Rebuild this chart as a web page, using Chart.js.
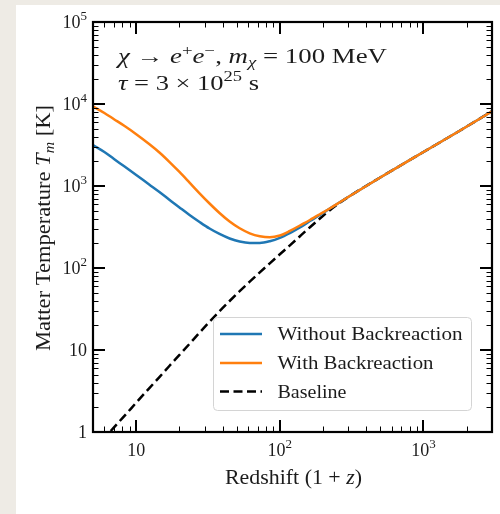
<!DOCTYPE html>
<html><head><meta charset="utf-8">
<script src="https://cdn.jsdelivr.net/npm/chart.js@4.4.1/dist/chart.umd.min.js"></script>
<style>html,body{margin:0;padding:0;background:#eeebe5;overflow:hidden}canvas{display:block}</style>
</head><body>
<canvas id="c" width="500" height="514"></canvas>
<script>
// ---- data ----
const redshift      = [5, 6, 7, 8.25, 10, 12.3, 14.5, 17, 20, 23.5, 27.6, 32.4, 38, 44.7, 52.5, 61.7, 72.5, 85.1, 100, 117.5, 138, 162, 190, 224, 263, 309, 500, 1000, 1800, 3000];
const tempWithout   = [3150, 2598, 2134, 1738, 1362, 1043, 845, 679, 547, 443, 364, 303, 260, 229, 210, 202, 202, 212, 233, 267, 312, 374, 443, 535, 638, 760, 1270, 2598, 4752, 8150];
const tempWith      = [9350, 7768, 6525, 5420, 4282, 3251, 2563, 1973, 1482, 1100, 815, 612, 469, 369, 305, 265, 244, 237, 249, 283, 330, 385, 452, 535, 638, 760, 1270, 2598, 4752, 8150];
const tempBaseline  = [0.58, 0.84, 1.14, 1.56, 2.28, 3.41, 4.67, 6.38, 8.71, 11.9, 16.3, 22.1, 29.7, 39.6, 52.1, 68.1, 88.4, 114, 147, 189, 244, 314, 401, 510, 629, 760, 1270, 2598, 4752, 8150];
const seriesNames   = ['Without Backreaction', 'With Backreaction', 'Baseline'];
const xMajorTicks   = [10, 100, 1000];
const xTickLabels   = [['10', ''], ['10', '2'], ['10', '3']];
const yMajorTicks   = [1, 10, 100, 1000, 10000, 100000];
const yTickLabels   = [['1', ''], ['10', ''], ['10', '2'], ['10', '3'], ['10', '4'], ['10', '5']];
const xRange = [5, 3000];
const yRange = [1, 100000];

const SERIF = '"Liberation Serif", "DejaVu Serif", serif';
const TXT = '#1c1c1c';
const BLUE = '#1f77b4', ORANGE = '#ff7f0e';

function pts(ys) { return redshift.map((x, i) => ({x, y: ys[i]})); }

// rich text: segs = [{t, it, sc, dy}]
function richWidth(ctx, segs, size) {
  let w = 0;
  for (const s of segs) {
    ctx.font = (s.it ? 'italic ' : '') + Math.round(size * (s.sc || 1)) + 'px ' + SERIF;
    w += ctx.measureText(s.t).width;
  }
  return w;
}
function drawRich(ctx, segs, x, y, size, targetW, align) {
  const w = richWidth(ctx, segs, size);
  const sx = targetW ? targetW / w : 1;
  const tw = w * sx;
  let x0 = align === 'center' ? x - tw / 2 : align === 'right' ? x - tw : x;
  ctx.save();
  ctx.translate(x0, y);
  ctx.scale(sx, 1);
  ctx.fillStyle = TXT;
  ctx.textBaseline = 'alphabetic';
  ctx.textAlign = 'left';
  let cx = 0;
  for (const s of segs) {
    ctx.font = (s.it ? 'italic ' : '') + Math.round(size * (s.sc || 1)) + 'px ' + SERIF;
    ctx.fillText(s.t, cx, s.dy || 0);
    cx += ctx.measureText(s.t).width;
  }
  ctx.restore();
}

const decor = {
  id: 'decor',
  beforeDraw(chart) {
    const ctx = chart.ctx;
    ctx.save();
    ctx.fillStyle = '#eeebe5';
    ctx.fillRect(0, 0, chart.width, chart.height);
    ctx.fillStyle = '#ffffff';
    ctx.fillRect(16, 5, chart.width - 16, chart.height - 5);
    ctx.restore();
  },
  afterDatasetsDraw(chart) {
    const {ctx, chartArea: a, scales: {x, y}} = chart;
    ctx.save();
    ctx.strokeStyle = '#000';
    // minor ticks
    ctx.lineWidth = 1;
    ctx.beginPath();
    for (let d = -1; d <= 5; d++) {
      for (let k = 2; k <= 9; k++) {
        const v = k * Math.pow(10, d);
        if (v > xRange[0] && v < xRange[1]) {
          const p = Math.round(x.getPixelForValue(v)) + 0.5;
          ctx.moveTo(p, a.bottom); ctx.lineTo(p, a.bottom - 5.5);
          ctx.moveTo(p, a.top); ctx.lineTo(p, a.top + 5.5);
        }
        if (v > yRange[0] && v < yRange[1]) {
          const p = Math.round(y.getPixelForValue(v)) + 0.5;
          ctx.moveTo(a.left, p); ctx.lineTo(a.left + 5.5, p);
          ctx.moveTo(a.right, p); ctx.lineTo(a.right - 5.5, p);
        }
      }
    }
    ctx.stroke();
    // major ticks
    ctx.lineWidth = 2;
    ctx.beginPath();
    for (const v of xMajorTicks) {
      const p = Math.round(x.getPixelForValue(v));
      ctx.moveTo(p, a.bottom); ctx.lineTo(p, a.bottom - 12);
      ctx.moveTo(p, a.top); ctx.lineTo(p, a.top + 12);
    }
    for (const v of yMajorTicks) {
      const p = Math.round(y.getPixelForValue(v));
      ctx.moveTo(a.left, p); ctx.lineTo(a.left + 12, p);
      ctx.moveTo(a.right, p); ctx.lineTo(a.right - 12, p);
    }
    ctx.stroke();
    // frame
    ctx.lineWidth = 2.2;
    ctx.strokeRect(a.left, a.top, a.right - a.left, a.bottom - a.top);
    ctx.restore();
  },
  afterDraw(chart) {
    const {ctx, chartArea: a, scales: {x, y}} = chart;
    ctx.save();
    // tick labels
    const TS = 18;
    xMajorTicks.forEach((v, i) => {
      const [b, e] = xTickLabels[i];
      const segs = [{t: b}];
      if (e) segs.push({t: e, sc: 0.7, dy: -8});
      drawRich(ctx, segs, x.getPixelForValue(v), 456, TS, 0, 'center');
    });
    yMajorTicks.forEach((v, i) => {
      const [b, e] = yTickLabels[i];
      const segs = [{t: b}];
      if (e) segs.push({t: e, sc: 0.7, dy: -8});
      drawRich(ctx, segs, a.left - 6, y.getPixelForValue(v) + 6, TS, 0, 'right');
    });
    // axis titles
    drawRich(ctx, [{t: 'Redshift (1 + '}, {t: 'z', it: true}, {t: ')'}], 293.5, 484, 20, 137, 'center');
    ctx.save();
    ctx.translate(50, 228);
    ctx.rotate(-Math.PI / 2);
    drawRich(ctx, [{t: 'Matter Temperature '}, {t: 'T', it: true}, {t: 'm', it: true, sc: 0.7, dy: 4}, {t: ' [K]'}], 0, 0, 20, 246, 'center');
    ctx.restore();
    // annotation
    drawRich(ctx, [
      {t: 'χ', it: true}, {t: ' → '}, {t: 'e', it: true}, {t: '+', sc: 0.7, dy: -8}, {t: 'e', it: true}, {t: '−', sc: 0.7, dy: -8},
      {t: ', '}, {t: 'm', it: true}, {t: 'χ', it: true, sc: 0.7, dy: 4}, {t: ' = 100 MeV'}
    ], 118, 63, 20, 269, 'left');
    drawRich(ctx, [{t: 'τ', it: true}, {t: ' = 3 × 10'}, {t: '25', sc: 0.7, dy: -9}, {t: ' s'}], 118, 90, 20, 141, 'left');
    // legend
    const L = {x0: 213.5, y0: 317.5, x1: 471.5, y1: 410.5};
    ctx.beginPath();
    ctx.roundRect(L.x0, L.y0, L.x1 - L.x0, L.y1 - L.y0, 4);
    ctx.fillStyle = 'rgba(255,255,255,0.85)';
    ctx.fill();
    ctx.strokeStyle = '#d4d4d4';
    ctx.lineWidth = 1;
    ctx.stroke();
    const rows = [334, 363, 391.5];
    const widths = [185, 156, 69];
    chart.data.datasets.forEach((ds, i) => {
      ctx.save();
      ctx.strokeStyle = ds.borderColor;
      ctx.lineWidth = ds.borderWidth;
      ctx.setLineDash(ds.borderDash || []);
      ctx.beginPath();
      ctx.moveTo(220, rows[i]); ctx.lineTo(262, rows[i]);
      ctx.stroke();
      ctx.restore();
      drawRich(ctx, [{t: ds.label}], 277.5, rows[i] + 6, 18, widths[i], 'left');
    });
    ctx.restore();
  }
};

new Chart(document.getElementById('c'), {
  type: 'line',
  data: {
    datasets: [
      {label: seriesNames[0], data: pts(tempWithout), borderColor: BLUE, borderWidth: 2.5, order: 1},
      {label: seriesNames[1], data: pts(tempWith), borderColor: ORANGE, borderWidth: 2.5, order: 0},
      {label: seriesNames[2], data: pts(tempBaseline), borderColor: '#000', borderWidth: 2.5, borderDash: [9, 4.5], order: 2}
    ]
  },
  options: {
    responsive: false,
    animation: false,
    devicePixelRatio: 1,
    layout: {padding: {left: 93, top: 22, right: 8, bottom: 82}},
    elements: {point: {radius: 0}, line: {cubicInterpolationMode: 'monotone', borderCapStyle: 'butt'}},
    plugins: {legend: {display: false}, tooltip: {enabled: false}},
    scales: {
      x: {type: 'logarithmic', min: xRange[0], max: xRange[1], display: false},
      y: {type: 'logarithmic', min: yRange[0], max: yRange[1], display: false}
    }
  },
  plugins: [decor]
});
</script>
</body></html>
